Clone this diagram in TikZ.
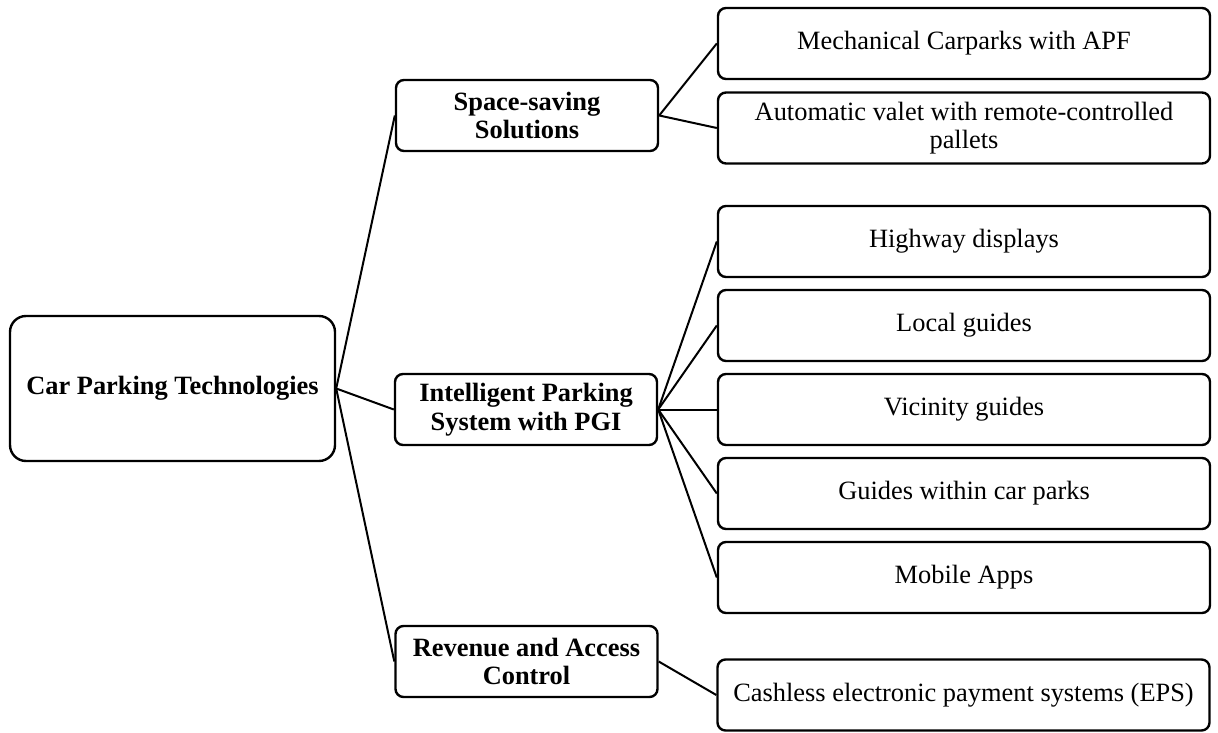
\documentclass[tikz,border=0pt]{standalone}
\usepackage{fontspec}
\setmainfont{Liberation Serif}
\begin{document}
\begin{tikzpicture}[x=0.5pt,y=-0.5pt,
  box/.style={draw=black,line width=1.2pt,rounded corners=4pt,align=center,inner sep=0pt,
    font=\fontsize{13.2}{14.2}\selectfont},
  lvl1/.style={box,minimum width=131pt,minimum height=35.5pt,font=\fontsize{13.2}{14.2}\selectfont\bfseries},
  leaf/.style={box,minimum width=246pt,minimum height=35.5pt},
  conn/.style={line width=1pt}]
\useasboundingbox (0,0) rectangle (1218,732);
\node[box,rounded corners=8pt,minimum width=162.5pt,minimum height=72.5pt,font=\fontsize{13.2}{14.2}\selectfont\bfseries] (root) at (172.5,388.5) {Car Parking Technologies};
\node[lvl1] (space) at (527,115.5) {Space-saving\\Solutions};
\node[lvl1] (intel) at (526,409.5) {Intelligent Parking\\System with PGI};
\node[lvl1] (rev) at (526.5,661.5) {Revenue and Access\\Control};
\node[leaf] (mech) at (964,43.5) {Mechanical Carparks with APF};
\node[leaf] (auto) at (964,128) {Automatic valet with remote-controlled\\pallets};
\node[leaf] (high) at (964,241.5) {Highway displays};
\node[leaf] (local) at (964,325.5) {Local guides};
\node[leaf] (vic) at (964,409.5) {Vicinity guides};
\node[leaf] (guide) at (964,493.5) {Guides within car parks};
\node[leaf] (mob) at (964,577.5) {Mobile Apps};
\node[leaf] (cash) at (963.5,695) {Cashless electronic payment systems (EPS)};
\draw[conn] (root.east) -- (space.west);
\draw[conn] (root.east) -- (intel.west);
\draw[conn] (root.east) -- (rev.west);
\draw[conn] (space.east) -- (mech.west);
\draw[conn] (space.east) -- (auto.west);
\draw[conn] (intel.east) -- (high.west);
\draw[conn] (intel.east) -- (local.west);
\draw[conn] (intel.east) -- (vic.west);
\draw[conn] (intel.east) -- (guide.west);
\draw[conn] (intel.east) -- (mob.west);
\draw[conn] (rev.east) -- (cash.west);
\end{tikzpicture}
\end{document}
